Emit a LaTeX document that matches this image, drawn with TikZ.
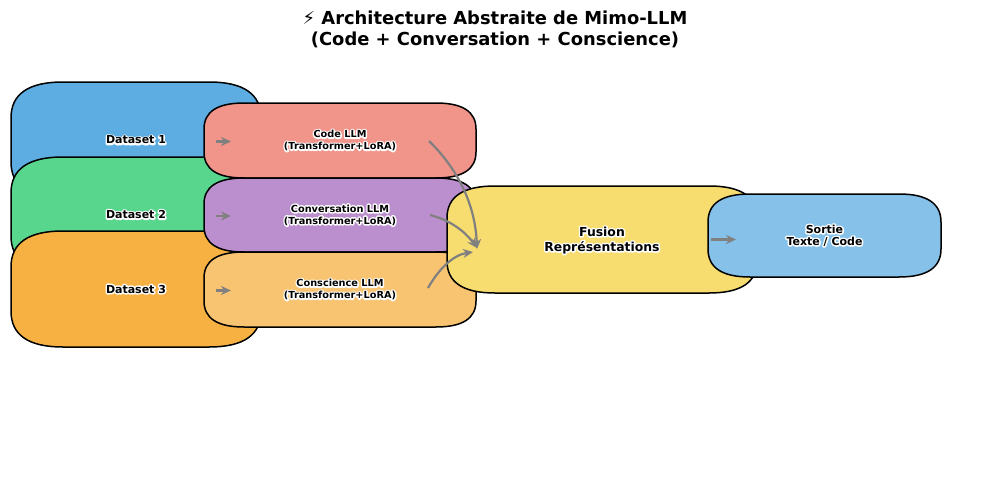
\documentclass[tikz,border=0pt]{standalone}
\usepackage{fontspec}
\setmainfont{DejaVu Sans}
\usetikzlibrary{arrows.meta,calc}
\definecolor{cA}{HTML}{5DADE2}\definecolor{cB}{HTML}{58D68D}\definecolor{cC}{HTML}{F7B143}
\definecolor{cD}{HTML}{F1948A}\definecolor{cE}{HTML}{BB8FCE}\definecolor{cF}{HTML}{F8C471}
\definecolor{cG}{HTML}{F7DC6F}\definecolor{cH}{HTML}{85C1E9}
\newcommand{\halo}[1]{\leavevmode\rlap{\special{pdf:code 1 Tr 3 w 1 1 1 RG 1 j}#1\special{pdf:code 0 Tr 1 w 0 0 0 RG 0 j}}#1}
\newcommand{\qbox}[9]{% name x0 y0 x1 y1 rx ry colour text
  \fill[#8,draw=black,line width=1.5pt] (#2+#6,#3) -- (#4-#6,#3)
    .. controls (#4-#6/3,#3) and (#4,#3+#7/3) .. (#4,#3+#7) -- (#4,#5-#7)
    .. controls (#4,#5-#7/3) and (#4-#6/3,#5) .. (#4-#6,#5) -- (#2+#6,#5)
    .. controls (#2+#6/3,#5) and (#2,#5-#7/3) .. (#2,#5-#7) -- (#2,#3+#7)
    .. controls (#2,#3+#7/3) and (#2+#6/3,#3) .. (#2+#6,#3) -- cycle;
  \path ({(#2+#4)/2},{(#3+#5)/2}) node[lbl] (#1) {#9};}
\tikzset{
  lbl/.style={align=center,inner sep=0pt,font=\bfseries\fontsize{11}{12}\selectfont},
  small/.style={font=\bfseries\fontsize{9.75}{12}\selectfont},
  link/.style={draw=gray,line width=2.2pt,-{Stealth[length=10pt,width=9pt]}},
  ttl/.style={align=center,inner sep=0pt,font=\bfseries\fontsize{17.9}{21}\selectfont}
}
\begin{document}
\begin{tikzpicture}[x=1pt,y=-1pt]
\useasboundingbox (0,0) rectangle (989,490);
\node[ttl] (title) at (495,29) {⚡ Architecture Abstraite de Mimo-LLM\\(Code + Conversation + Conscience)};
\qbox{d1}{11}{82}{261}{198}{52}{36}{cA}{\halo{Dataset 1}}
\qbox{d2}{11}{157}{261}{272}{52}{36}{cB}{\halo{Dataset 2}}
\qbox{d3}{11}{231}{261}{347}{52}{36}{cC}{\halo{Dataset 3}}
\tikzset{lbl/.append style={small}}
\qbox{m1}{204}{103}{476}{178}{40}{26}{cD}{\halo{Code LLM}\\\halo{(Transformer+LoRA)}}
\qbox{m2}{204}{178}{476}{252}{40}{26}{cE}{\halo{Conversation LLM}\\\halo{(Transformer+LoRA)}}
\qbox{m3}{204}{252}{476}{327}{40}{26}{cF}{\halo{Conscience LLM}\\\halo{(Transformer+LoRA)}}
\tikzset{lbl/.style={align=center,inner sep=0pt,yshift=-0.8pt,font=\bfseries\fontsize{12.4}{15}\selectfont}}
\qbox{fu}{447}{186}{757}{293}{48}{32}{cG}{\halo{Fusion}\\\halo{Représentations}}
\tikzset{lbl/.style={align=center,inner sep=0pt,font=\bfseries\fontsize{11}{12}\selectfont}}
\qbox{so}{708}{194}{941}{277}{42}{28}{cH}{\halo{Sortie}\\\halo{Texte / Code}}
% connector ends
\coordinate (a1) at (216,141.5); \coordinate (b1) at (231,141.5);
\coordinate (a2) at (216,216); \coordinate (b2) at (231,216);
\coordinate (a3) at (216,290.5); \coordinate (b3) at (231,290.5);
\coordinate (s1) at (429,141); \coordinate (s2) at (430,215); \coordinate (s3) at (428,288);
\coordinate (e1) at (477,249); \coordinate (e2) at (477,248); \coordinate (e3) at (473,252);
\coordinate (f1) at (711,239.5); \coordinate (f2) at (736,239.5);
\draw[link] (a1) -- (b1);
\draw[link] (a2) -- (b2);
\draw[link] (a3) -- (b3);
\draw[link] (s1) .. controls (459.4,170.6) and (475.4,206.6) .. (e1);
\draw[link] (s2) .. controls (450,220) and (465,231.4) .. (e2);
\draw[link] (s3) .. controls (438.2,270) and (452.5,255) .. (e3);
\draw[link] (f1) -- (f2);
\end{tikzpicture}
\end{document}
